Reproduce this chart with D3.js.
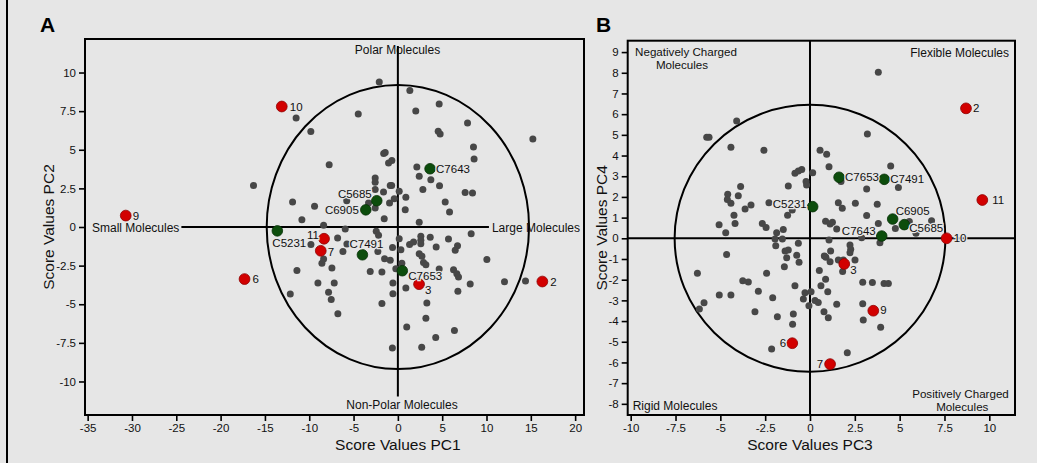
<!DOCTYPE html>
<html><head><meta charset="utf-8">
<script src="https://cdn.jsdelivr.net/npm/d3@7"></script>
<style>html,body{margin:0;padding:0;background:#e6e6e6;}svg{display:block;font-family:"Liberation Sans",Arial,sans-serif;}</style>
</head><body><script>
// ---------------- DATA ----------------
// Panel A: PC1 vs PC2
const greyA = [[-2.1,9.39],[1.35,8.84],[-11.48,7.05],[-9.82,6.19],[-4.47,7.31],[2.02,7.51],[4.66,7.96],[7.86,6.73],[4.55,6.2],[4.77,6.02],[15.23,5.7],[8.53,5.18],[8.6,4.4],[-7.75,4.03],[-16.29,2.68],[-1.6,4.75],[-1.43,4.83],[-1.05,4.14],[-0.68,4.31],[2.14,3.88],[2.41,3.28],[3.72,3.06],[4.7,2.67],[2.82,2.43],[7.59,2.24],[8.42,2.2],[5.34,1.62],[5.83,0.97],[-2.56,3.17],[-2.56,2.89],[-2.56,2.42],[-1.62,2.26],[-0.86,2.69],[-0.7,2.69],[0.15,2.31],[0.9,1.92],[-0.41,1.83],[-0.94,1.55],[-3.31,1.55],[-2.56,1.23],[0.83,1.12],[-1.54,0.54],[-11.88,1.62],[-9.4,1.34],[-10.83,0.47],[-8.38,0.11],[-5.94,-0.13],[-5.77,1.7],[2.41,0.3],[8.27,-0.43],[-2.44,-0.28],[-2.18,-0.54],[-6.8,-0.71],[-9.81,-1.14],[-5.75,-1.1],[-6.2,-1.58],[-2.26,-1.58],[0.15,-0.76],[-0.6,-1.32],[0.34,-1.47],[1.32,-1.14],[1.77,-0.97],[2.59,-0.6],[2.59,-0.86],[2.59,-1.08],[3.65,-0.67],[4.32,-1.29],[5.71,-0.78],[6.73,-1.21],[6.47,-1.51],[10.04,-2.11],[2.41,-1.73],[2.71,-1.9],[2.89,-2.29],[3.16,-2.44],[-1.5,-2.06],[-0.86,-2.16],[-0.23,-2.71],[0.45,-2.34],[-3.12,-2.88],[-1.8,-2.92],[4.66,-2.72],[6.28,-2.76],[6.65,-3.02],[6.84,-3.24],[8.16,-3.69],[12.03,-3.54],[14.4,-3.5],[-11.39,-2.82],[-8.57,-2.34],[-8.38,-2.07],[-7.44,-2.65],[-9.02,-3.62],[-7.18,-3.62],[-7.82,-4.23],[-7.52,-4.7],[-12.14,-4.34],[-6.77,-5.62],[-0.56,-3.63],[-0.56,-4.32],[0.9,-3.95],[3.27,-4.92],[-1.8,-4.96],[6.77,-4.16],[3.16,-5.9],[1.0,-6.48],[6.38,-6.7],[4.27,-7.15],[-0.62,-7.84],[2.69,-7.78]];
const redNamesA = ["10","9","6","11","7","3","2"];
const redPC1 = [-13.1,-30.7,-17.3,-8.33,-8.7,2.39,16.3];
const redPC2 = [7.8,0.74,-3.37,-0.76,-1.54,-3.7,-3.53];
const greenNamesA = ["C7643","C5685","C6905","C5231","C7491","C7653"];
const greenPC1 = [3.63,-2.38,-3.62,-13.6,-4.0,0.5];
const greenPC2 = [3.77,1.7,1.11,-0.25,-1.8,-2.83];
const ellipseA = [14.8, 9.2];
const xTicksA = [-35,-30,-25,-20,-15,-10,-5,0,5,10,15,20];
const yTicksA = [-10,-7.5,-5,-2.5,0,2.5,5,7.5,10];

// Panel B: PC3 vs PC4
const greyB = [[3.81,8.02],[-4.09,5.67],[-5.76,4.88],[-5.63,4.88],[-4.41,4.4],[-2.57,4.25],[3.2,5.04],[0.56,4.25],[0.93,4.06],[1.06,3.46],[0.15,3.17],[-0.84,3.14],[-0.65,3.25],[-0.46,3.33],[-1.21,2.53],[-0.22,2.74],[-0.19,2.58],[4.5,3.5],[4.93,2.46],[3.16,2.38],[1.73,2.74],[-3.87,2.5],[-4.59,2.13],[-4.61,1.88],[-4.0,2.06],[-4.41,1.69],[-3.29,1.61],[-3.62,1.42],[-4.24,1.11],[-5.07,0.66],[-4.7,0.27],[-4.18,0.72],[-2.29,1.72],[-0.99,1.37],[-1.25,1.11],[-2.66,0.72],[-2.45,0.52],[-1.86,0.27],[-1.49,0.43],[-1.95,-0.03],[-1.54,-0.03],[-0.65,-0.24],[1.58,1.72],[1.8,1.45],[2.53,1.69],[3.75,1.64],[3.16,1.1],[3.81,0.72],[4.76,0.47],[0.87,0.82],[1.12,0.69],[1.25,0.77],[1.49,0.45],[1.06,-0.08],[2.88,0.03],[3.9,-0.21],[5.54,0.81],[5.91,0.24],[6.78,0.85],[2.23,-0.32],[2.27,-0.53],[2.23,-0.7],[1.15,-0.61],[0.8,-0.86],[0.89,-0.92],[-4.65,-0.78],[-1.91,-0.36],[-1.39,-0.61],[-1.21,-0.57],[-0.74,-0.82],[-1.3,-0.94],[-0.61,-1.16],[-1.43,-1.37],[-6.28,-1.69],[-2.42,-1.69],[-3.75,-2.05],[-3.44,-2.11],[-2.88,-2.56],[-5.06,-2.74],[-4.41,-2.74],[-5.91,-3.11],[-6.17,-3.42],[-2.08,-2.87],[-3.07,-3.55],[-1.82,-3.79],[-0.93,-3.66],[-0.97,-4.16],[-0.84,-2.29],[-0.28,-2.63],[0.06,-2.58],[-0.37,-2.93],[0.28,-3.01],[0.46,-3.1],[-0.06,-3.26],[-2.14,-5.35],[1.12,-1.13],[1.58,-1.05],[1.86,-1.05],[2.51,-1.05],[1.82,-1.6],[0.52,-1.56],[0.87,-1.98],[0.61,-2.29],[0.99,-2.58],[1.49,-3.19],[0.78,-3.55],[1.02,-3.84],[2.94,-2.13],[3.48,-2.14],[4.13,-2.19],[4.37,-2.18],[2.94,-3.16],[2.97,-3.95],[3.94,-4.3],[2.08,-5.53]];
const redNamesB = ["2","11","10","3","9","7","6"];
const redPC3 = [8.7,9.61,7.62,1.91,3.53,1.12,-0.99];
const redPC4 = [6.28,1.85,0,-1.24,-3.5,-6.08,-5.07];
const greenNamesB = ["C7653","C7491","C5231","C6905","C5685","C7643"];
const greenPC3 = [1.62,4.14,0.15,4.61,5.26,4.0];
const greenPC4 = [2.95,2.85,1.53,0.93,0.66,0.11];
const ellipseB = [7.55, 6.45];
const xTicksB = [-10,-7.5,-5,-2.5,0,2.5,5,7.5,10];
const yTicksB = [-8,-7,-6,-5,-4,-3,-2,-1,0,1,2,3,4,5,6,7,8,9];

// ---------------- DRAWING ----------------
const W = 1037, H = 463, BG = "#e6e6e6";
const RED = "#d20000", RED_S = "#8f0000", GREEN = "#0c4d0c", GREEN_S = "#063006", GREY = "#474747";
const svg = d3.select("body").append("svg").attr("width", W).attr("height", H);
svg.append("rect").attr("width", W).attr("height", H).attr("fill", BG);
svg.append("line").attr("x1", 7).attr("x2", 7).attr("y1", 0).attr("y2", H).attr("stroke", "#000").attr("stroke-width", 2);

// label placement (pixels relative to point) — layout only
const placeA = {"10":[8,0,"start"],"9":[7,0,"start"],"6":[8,0,"start"],"11":[-5,-4,"end"],"7":[7,1,"start"],"3":[6,6,"start"],"2":[8,0,"start"],
  "C7643":[6,0,"start"],"C5685":[-5,-7,"end"],"C6905":[-7,0,"end"],"C5231":[-5,12,"start"],"C7491":[4,-11,"middle"],"C7653":[6,5,"start"]};
const placeB = {"2":[7,0,"start"],"11":[10,0,"start"],"10":[7,0,"start"],"3":[6,6,"start"],"9":[7,-1,"start"],"7":[-7,0,"end"],"6":[-6,0,"end"],
  "C7653":[6,0,"start"],"C7491":[6,0,"start"],"C5231":[-6,-3,"end"],"C6905":[3,-8,"start"],"C5685":[5,3,"start"],"C7643":[-6,-5,"end"]};

function drawPanel(c) {
  const g = svg.append("g");
  const x = d3.scaleLinear().domain(c.xDomain).range([c.left, c.right]);
  const y = d3.scaleLinear().domain(c.yDomain).range([c.bottom, c.top]);

  const xa = g.append("g").attr("transform", `translate(0,${c.bottom})`)
    .call(d3.axisBottom(x).tickValues(c.xTicks).tickFormat(d => String(d)).tickSizeInner(6).tickSizeOuter(0).tickPadding(3));
  const ya = g.append("g").attr("transform", `translate(${c.left},0)`)
    .call(d3.axisLeft(y).tickValues(c.yTicks).tickFormat(d => String(d)).tickSizeInner(6).tickSizeOuter(0).tickPadding(3));
  [xa, ya].forEach(a => {
    a.select(".domain").remove();
    a.selectAll(".tick line").attr("stroke", "#000").attr("stroke-width", 1.6);
    a.selectAll(".tick text").attr("fill", "#111").style("font-size", "11.5px").style("font-family", '"Liberation Sans",Arial,sans-serif');
  });

  // ellipse (confidence region)
  g.append("ellipse").attr("cx", x(0)).attr("cy", y(0))
    .attr("rx", x(c.ellipse[0]) - x(0)).attr("ry", y(0) - y(c.ellipse[1]))
    .attr("fill", "none").attr("stroke", "#000").attr("stroke-width", 2);

  // region labels
  const rl = g.append("g").attr("fill", "#111");
  const boxes = {};
  c.regions.forEach(r => {
    const t = rl.append("text").attr("x", r.x).attr("y", r.y).attr("text-anchor", r.anchor)
      .attr("dominant-baseline", "central").style("font-size", (r.size || 12) + "px").text(r.text);
    if (r.key) boxes[r.key] = t.node().getBBox();
  });

  // zero lines
  if (c.gappedLines) {
    g.append("line").attr("x1", boxes.left.x + boxes.left.width + 2).attr("x2", boxes.right.x - 3)
      .attr("y1", y(0)).attr("y2", y(0)).attr("stroke", "#000").attr("stroke-width", 2);
    g.append("line").attr("x1", x(0)).attr("x2", x(0)).attr("y1", boxes.top.y + 3).attr("y2", boxes.bottom.y - 1)
      .attr("stroke", "#000").attr("stroke-width", 2);
  } else {
    g.append("line").attr("x1", c.left).attr("x2", c.right).attr("y1", y(0)).attr("y2", y(0)).attr("stroke", "#000").attr("stroke-width", 2);
    g.append("line").attr("x1", x(0)).attr("x2", x(0)).attr("y1", c.top).attr("y2", c.bottom).attr("stroke", "#000").attr("stroke-width", 2);
  }

  // frame
  g.append("rect").attr("x", c.left).attr("y", c.top).attr("width", c.right - c.left).attr("height", c.bottom - c.top)
    .attr("fill", "none").attr("stroke", "#000").attr("stroke-width", 2);

  // grey points
  g.append("g").selectAll("circle").data(c.grey).join("circle")
    .attr("cx", d => x(d[0])).attr("cy", d => y(d[1])).attr("r", 3.5).attr("fill", GREY);

  // coloured points
  const reds = c.redNames.map((n, i) => ({n, x: c.redX[i], y: c.redY[i]}));
  const greens = c.greenNames.map((n, i) => ({n, x: c.greenX[i], y: c.greenY[i]}));
  g.append("g").selectAll("circle").data(greens).join("circle")
    .attr("cx", d => x(d.x)).attr("cy", d => y(d.y)).attr("r", 5.3).attr("fill", GREEN).attr("stroke", GREEN_S).attr("stroke-width", 0.8);
  g.append("g").selectAll("circle").data(reds).join("circle")
    .attr("cx", d => x(d.x)).attr("cy", d => y(d.y)).attr("r", 5.4).attr("fill", RED).attr("stroke", RED_S).attr("stroke-width", 0.8);

  // point labels
  g.append("g").selectAll("text").data(reds.concat(greens)).join("text")
    .attr("x", d => x(d.x) + c.place[d.n][0]).attr("y", d => y(d.y) + c.place[d.n][1])
    .attr("text-anchor", d => c.place[d.n][2]).attr("dominant-baseline", "central")
    .attr("fill", "#111").style("font-size", "11.5px")
    .attr("stroke", BG).attr("stroke-width", 2.5).style("paint-order", "stroke")
    .text(d => d.n);

  // axis titles
  g.append("text").attr("x", x(0)).attr("y", c.xTitleY).attr("text-anchor", "middle").attr("dominant-baseline", "central")
    .attr("fill", "#111").style("font-size", "15.5px").text(c.xTitle);
  g.append("text").attr("transform", `translate(${c.yTitleX},${(c.top + c.bottom) / 2}) rotate(-90)`)
    .attr("text-anchor", "middle").attr("dominant-baseline", "central")
    .attr("fill", "#111").style("font-size", "15.5px").text(c.yTitle);

  // panel letter
  g.append("text").attr("x", c.letterX).attr("y", 32).attr("fill", "#000").style("font-size", "21px").style("font-weight", "bold").text(c.letter);
}

drawPanel({
  letter: "A", letterX: 40,
  left: 85, right: 584, top: 39, bottom: 415,
  xDomain: [-35.3, 21.0], yDomain: [-12.17, 12.17],
  xTicks: xTicksA, yTicks: yTicksA, ellipse: ellipseA,
  grey: greyA, redNames: redNamesA, redX: redPC1, redY: redPC2,
  greenNames: greenNamesA, greenX: greenPC1, greenY: greenPC2, place: placeA,
  xTitle: "Score Values PC1", yTitle: "Score Values PC2", xTitleY: 444, yTitleX: 48,
  gappedLines: true,
  regions: [
    {text: "Polar Molecules", x: 397.5, y: 50, anchor: "middle", key: "top"},
    {text: "Non-Polar Molecules", x: 402, y: 404.5, anchor: "middle", key: "bottom"},
    {text: "Small Molecules", x: 92, y: 227.5, anchor: "start", key: "left"},
    {text: "Large Molecules", x: 580, y: 227.5, anchor: "end", key: "right"}
  ]
});

drawPanel({
  letter: "B", letterX: 596,
  left: 627.7, right: 1015, top: 40.7, bottom: 415,
  xDomain: [-10.167, 11.433], yDomain: [-8.54, 9.55],
  xTicks: xTicksB, yTicks: yTicksB, ellipse: ellipseB,
  grey: greyB, redNames: redNamesB, redX: redPC3, redY: redPC4,
  greenNames: greenNamesB, greenX: greenPC3, greenY: greenPC4, place: placeB,
  xTitle: "Score Values PC3", yTitle: "Score Values PC4", xTitleY: 444, yTitleX: 601,
  gappedLines: false,
  regions: [
    {text: "Negatively Charged", x: 686, y: 51.2, anchor: "middle", size: 11.6},
    {text: "Molecules", x: 682, y: 64.6, anchor: "middle", size: 11.6},
    {text: "Flexible Molecules", x: 1009, y: 53.3, anchor: "end"},
    {text: "Rigid Molecules", x: 632.7, y: 405.7, anchor: "start"},
    {text: "Positively Charged", x: 960.5, y: 393.2, anchor: "middle", size: 11.6},
    {text: "Molecules", x: 962.3, y: 406.6, anchor: "middle", size: 11.6}
  ]
});
</script></body></html>
